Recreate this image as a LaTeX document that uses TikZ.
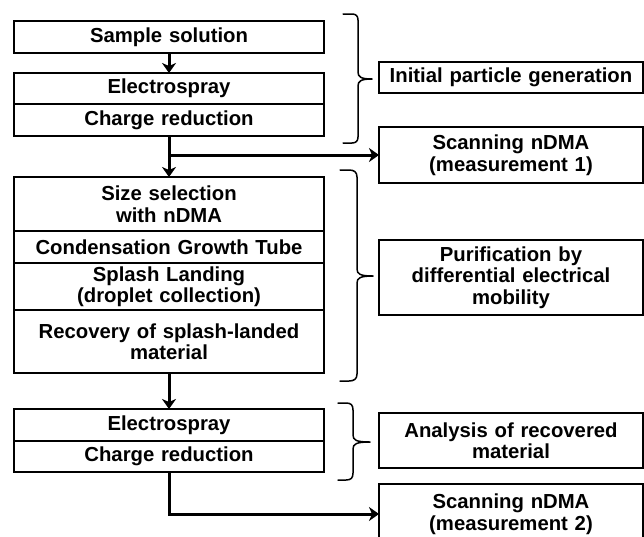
\documentclass[tikz,border=0pt]{standalone}
\usepackage{fontspec}
\setmainfont{Liberation Sans}
\usetikzlibrary{arrows.meta}
\begin{document}
\begin{tikzpicture}[x=1pt,y=-1pt,
  box/.style={draw=black, line width=1.4pt, inner sep=0pt, outer sep=0pt,
    anchor=north west, align=center, text width=300pt,
    font=\fontsize{20.3}{21.5}\selectfont\bfseries},
  lbox/.style={box, minimum width=310pt},
  rbox/.style={box, minimum width=264pt, text width=256pt},
  conn/.style={line width=3pt, -{Stealth[length=10pt,width=14pt,inset=3pt]}},
  brc/.style={line width=1.5pt, line cap=round, line join=round}]
\useasboundingbox (0,0) rectangle (644,536);
% left column
\node[lbox, minimum height=32pt] (A) at (14,21) {Sample solution};
\node[lbox, minimum height=31pt] (B1) at (14,73) {Electrospray};
\node[lbox, minimum height=32pt] (B2) at (14,104) {Charge reduction};
\node[lbox, minimum height=54pt] (C1) at (14,177) {Size selection\\with nDMA};
\node[lbox, minimum height=32pt] (C2) at (14,231) {Condensation Growth Tube};
\node[lbox, minimum height=47pt] (C3) at (14,263) {Splash Landing\\(droplet collection)};
\node[lbox, minimum height=63pt] (C4) at (14,310) {Recovery of splash-landed\\material};
\node[lbox, minimum height=32pt] (D1) at (14,409) {Electrospray};
\node[lbox, minimum height=31pt] (D2) at (14,441) {Charge reduction};
% right column
\node[rbox, minimum height=31pt] (R1) at (379,62) {Initial particle generation};
\node[rbox, minimum height=56pt] (S1) at (379,127) {Scanning nDMA\\(measurement 1)};
\node[rbox, minimum height=75pt] (R2) at (379,240) {Purification by\\differential electrical\\mobility};
\node[rbox, minimum height=55pt] (R3) at (379,413) {Analysis of recovered\\material};
\node[rbox, minimum height=60pt] (S2) at (379,484) {Scanning nDMA\\(measurement 2)};
% connectors
\draw[conn] (A.south) -- (B1.north);
\draw[conn] (B2.south) -- (C1.north);
\coordinate (j1) at (B2.south |- S1.west);
\draw[conn] (j1) -- (S1.west);
\draw[conn] (C4.south) -- (D1.north);
\draw[conn] (D2.south) |- (S2.west);
% braces
\draw[brc] (343,14) -- (352,14) .. controls (356,14) and (358,16) .. (358,20)
  -- (358,72) .. controls (358,77) and (361,79) .. (372,79)
  .. controls (361,79) and (358,81) .. (358,86)
  -- (358,137) .. controls (358,141) and (356,143) .. (352,143) -- (343,143);
\draw[brc] (340,170) -- (349,170) .. controls (354,170) and (357,172) .. (357,177)
  -- (357,269) .. controls (357,274) and (360,276) .. (373,276)
  .. controls (360,276) and (357,278) .. (357,283)
  -- (357,374) .. controls (357,379) and (354,381) .. (349,381) -- (340,381);
\draw[brc] (338,403) -- (346,403) .. controls (351,403) and (353,405) .. (353,410)
  -- (353,435) .. controls (353,440) and (356,442) .. (370,442)
  .. controls (356,442) and (353,444) .. (353,449)
  -- (353,473) .. controls (353,478) and (351,480) .. (346,480) -- (338,480);
\end{tikzpicture}
\end{document}
